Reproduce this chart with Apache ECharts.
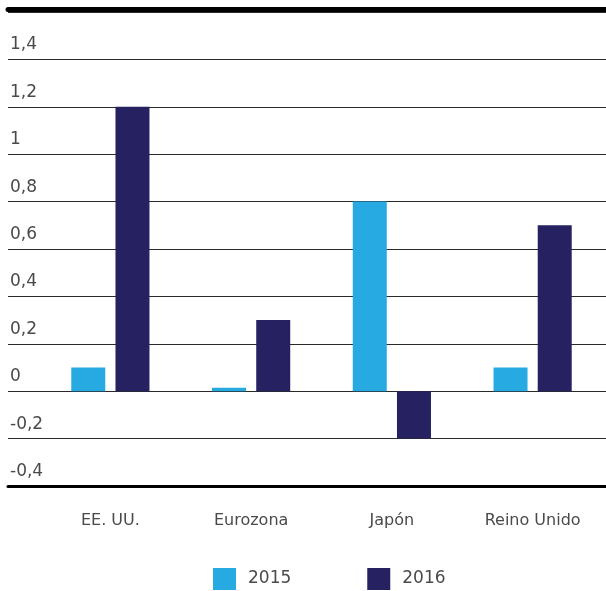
<!DOCTYPE html>
<html>
<head>
<meta charset="utf-8">
<script src="https://cdn.jsdelivr.net/npm/echarts@6/dist/echarts.min.js"></script>
<style>
  html, body { margin: 0; padding: 0; background: #fff; }
  #chart { width: 606px; height: 591px; }
</style>
</head>
<body>
<div id="chart"></div>
<script>
// Regions and yearly values
const categories = ['EE. UU.', 'Eurozona', 'Japón', 'Reino Unido'];
const seriesNames = ['2015', '2016'];
const values2015 = [0.1, 0.015, 0.8, 0.1];
const values2016 = [1.2, 0.3, -0.2, 0.7];
const yTicks = [-0.4, -0.2, 0, 0.2, 0.4, 0.6, 0.8, 1, 1.2, 1.4, 1.6];

const colors = ['#27a9e1', '#262262'];
const font = 'DejaVu Sans, Arial, sans-serif';
const textColor = '#4a4a4a';

const yMin = yTicks[0];
const yMax = yTicks[yTicks.length - 1];
const yStep = 0.2;

function fmt(v) {
  const r = Math.round(v * 10) / 10;
  if (Math.abs(r - yMax) < 1e-9) return '';
  return String(r).replace('.', ',');
}

const chart = echarts.init(document.getElementById('chart'), null, { renderer: 'canvas' });
chart.setOption({
  animation: false,
  backgroundColor: '#fff',
  color: colors,
  textStyle: { fontFamily: font },
  grid: [
    // full-width grid carrying the horizontal rules and value labels
    { left: 8, right: 0, top: 12, bottom: 105 },
    // bar area
    { left: 40, right: 3, top: 12, bottom: 105 }
  ],
  legend: {
    left: 213,
    top: 568,
    padding: 0,
    itemWidth: 23,
    itemHeight: 22,
    itemGap: 76,
    icon: 'rect',
    data: seriesNames,
    textStyle: { fontFamily: font, fontSize: 17, color: textColor, padding: [0, 0, 0, 7] }
  },
  xAxis: [
    {
      gridIndex: 0, type: 'value', position: 'top', offset: 3, min: 0, max: 1,
      axisLine: { show: true, onZero: false, lineStyle: { color: '#000', width: 5 } },
      axisTick: { show: false }, axisLabel: { show: false }, splitLine: { show: false }
    },
    {
      gridIndex: 0, type: 'value', position: 'bottom', min: 0, max: 1,
      axisLine: { show: true, onZero: false, lineStyle: { color: '#000', width: 3 } },
      axisTick: { show: false }, axisLabel: { show: false }, splitLine: { show: false }
    },
    {
      gridIndex: 1, type: 'category', position: 'bottom', data: categories,
      axisLine: { show: false }, axisTick: { show: false },
      axisLabel: { margin: 27, fontFamily: font, fontSize: 16, color: textColor }
    }
  ],
  yAxis: [
    {
      gridIndex: 0, type: 'value', min: yMin, max: yMax, interval: yStep,
      axisLine: { show: false }, axisTick: { show: false },
      splitLine: { show: true, lineStyle: { color: '#2a2a2a', width: 1 } },
      axisLabel: {
        inside: true, margin: 2, align: 'left', verticalAlign: 'bottom',
        padding: [0, 0, 6, 0],
        fontFamily: font, fontSize: 17, color: textColor,
        formatter: fmt
      }
    },
    {
      gridIndex: 1, type: 'value', min: yMin, max: yMax, interval: yStep,
      show: false, splitLine: { show: false }
    }
  ],
  series: [
    {
      name: seriesNames[0], type: 'bar', xAxisIndex: 2, yAxisIndex: 1,
      data: values2015, barWidth: 34, barGap: '30%',
      itemStyle: { color: colors[0] }
    },
    {
      name: seriesNames[1], type: 'bar', xAxisIndex: 2, yAxisIndex: 1,
      data: values2016, barWidth: 34, barGap: '30%',
      itemStyle: { color: colors[1] }
    }
  ]
});
</script>
</body>
</html>
